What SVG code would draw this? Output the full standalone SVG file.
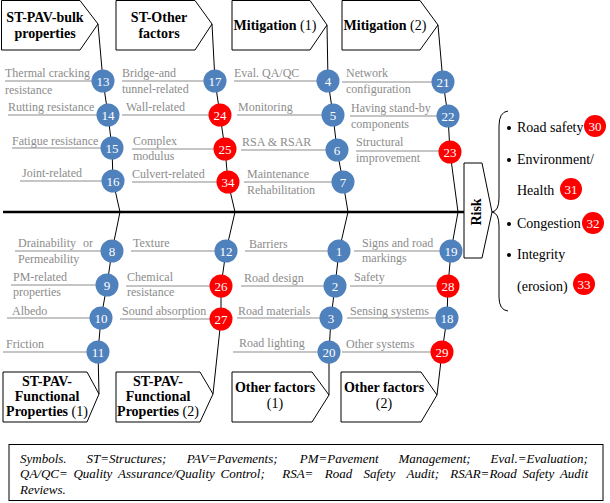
<svg xmlns="http://www.w3.org/2000/svg" width="610" height="503" viewBox="0 0 610 503">
<style>
  text{font-family:'Liberation Serif','DejaVu Serif',serif}
  .box{fill:#fff;stroke:#000;stroke-width:1}
  .bt{font-size:14px;font-weight:bold;fill:#000;text-anchor:middle}
  .r{font-weight:normal}
  .sp{fill:none;stroke:#000;stroke-width:1}
  .main{stroke:#000;stroke-width:2.5}
  .ln{stroke:#8c8c8c;stroke-width:1.2}
  .lbl{font-size:12px;fill:#8c8c8c}
  .nb{fill:#4f81bd}
  .nr{fill:#ff0000}
  .num{font-size:13px;fill:#fff;text-anchor:middle}
  .rk{font-size:14px;fill:#000}
  .leg{font-size:13px;font-style:italic;fill:#000}
</style>
<rect width="610" height="503" fill="#fff"/>

<!-- category boxes -->
<g id="box-st-pav-bulk"><path class="box" d="M1.5,0.5 H80 L98,24 L80,50 H1.5 Z"/><text class="bt" x="45" y="22">ST-PAV-bulk</text><text class="bt" x="45" y="38">properties</text></g>
<g id="box-st-other"><path class="box" d="M116,0.5 H195 L212,24 L195,50 H116 Z"/><text class="bt" x="159" y="22">ST-Other</text><text class="bt" x="159" y="38">factors</text></g>
<g id="box-mitigation-1"><path class="box" d="M232,0.5 H310 L327,25 L310,50 H232 Z"/><text class="bt" x="275" y="30">Mitigation<tspan class="r"> (1)</tspan></text></g>
<g id="box-mitigation-2"><path class="box" d="M342,0.5 H420 L438,25 L420,50 H342 Z"/><text class="bt" x="385" y="30">Mitigation<tspan class="r"> (2)</tspan></text></g>
<g id="box-st-pav-func-1"><path class="box" d="M3,372 H87 L99,394 L87,422 H3 Z"/><text class="bt" x="47" y="386">ST-PAV-</text><text class="bt" x="47" y="401">Functional</text><text class="bt" x="47" y="416">Properties<tspan class="r"> (1)</tspan></text></g>
<g id="box-st-pav-func-2"><path class="box" d="M116,372 H200 L213,394 L200,422 H116 Z"/><text class="bt" x="158" y="386">ST-PAV-</text><text class="bt" x="158" y="401">Functional</text><text class="bt" x="158" y="416">Properties<tspan class="r"> (2)</tspan></text></g>
<g id="box-other-1"><path class="box" d="M232,372 H312 L329,395 L312,422 H232 Z"/><text class="bt" x="275" y="392">Other factors</text><text class="bt" x="275" y="408"><tspan class="r">(1)</tspan></text></g>
<g id="box-other-2"><path class="box" d="M341,372 H421 L437,395 L421,422 H341 Z"/><text class="bt" x="384" y="392">Other factors</text><text class="bt" x="384" y="408"><tspan class="r">(2)</tspan></text></g>

<!-- connectors -->
<g id="connectors">
  <line class="main" x1="3" y1="212" x2="464" y2="212"/>
  <polyline class="sp" points="98,24 103,81 108,115 112,148 113,181 120,212 112,251 107,285 101,318 98,352 99,394"/>
  <polyline class="sp" points="212,24 215,81 220,115 225,149 228,182 235,212 226,251 221,286 221,319 213,394"/>
  <polyline class="sp" points="327,25 328,81 333,115 337,150 343,182 348,212 339,251 335,286 331,318 329,352 329,395"/>
  <polyline class="sp" points="438,25 443,82 448,116 450,152 458,212 451,251 448,286 447,318 442,352 437,395"/>
</g>

<!-- risk box -->
<g id="risk">
  <path class="box" d="M464,163 H482 L492,212 L482,258 H464 Z"/>
  <text class="bt" transform="translate(481,212) rotate(-90)">Risk</text>
  <path class="sp" d="M508,111 Q499,112 499,126 L499,198 Q499,211 492,212 Q499,213 499,226 L499,297 Q499,310 508,311"/>
</g>

<!-- numbered nodes -->
<g id="n13"><line class="ln" x1="5" y1="81" x2="103" y2="81"/><text class="lbl" x="5" y="77">Thermal cracking</text><text class="lbl" x="5" y="94">resistance</text><circle class="nb" cx="103" cy="81" r="11.5"/><text class="num" x="103" y="85.5">13</text></g>
<g id="n14"><line class="ln" x1="8" y1="115" x2="108" y2="115"/><text class="lbl" x="8" y="111">Rutting resistance</text><circle class="nb" cx="108" cy="115" r="11.5"/><text class="num" x="108" y="119.5">14</text></g>
<g id="n15"><line class="ln" x1="12" y1="148" x2="112" y2="148"/><text class="lbl" x="12" y="145">Fatigue resistance</text><circle class="nb" cx="112" cy="148" r="11.5"/><text class="num" x="112" y="152.5">15</text></g>
<g id="n16"><line class="ln" x1="20" y1="181" x2="113" y2="181"/><text class="lbl" x="22" y="177">Joint-related</text><circle class="nb" cx="113" cy="181" r="11.5"/><text class="num" x="113" y="185.5">16</text></g>

<g id="n17"><line class="ln" x1="122" y1="81" x2="215" y2="81"/><text class="lbl" x="122" y="77">Bridge-and</text><text class="lbl" x="122" y="93">tunnel-related</text><circle class="nb" cx="215" cy="81" r="11.5"/><text class="num" x="215" y="85.5">17</text></g>
<g id="n24"><line class="ln" x1="122" y1="115" x2="220" y2="115"/><text class="lbl" x="126" y="111">Wall-related</text><circle class="nr" cx="220" cy="115" r="11.5"/><text class="num" x="220" y="119.5">24</text></g>
<g id="n25"><line class="ln" x1="132" y1="149" x2="225" y2="149"/><text class="lbl" x="133" y="145">Complex</text><text class="lbl" x="133" y="160">modulus</text><circle class="nr" cx="225" cy="149" r="11.5"/><text class="num" x="225" y="153.5">25</text></g>
<g id="n34"><line class="ln" x1="132" y1="182" x2="228" y2="182"/><text class="lbl" x="132" y="178">Culvert-related</text><circle class="nr" cx="228" cy="182" r="11.5"/><text class="num" x="228" y="186.5">34</text></g>

<g id="n4"><line class="ln" x1="234" y1="81" x2="328" y2="81"/><text class="lbl" x="234" y="77">Eval. QA/QC</text><circle class="nb" cx="328" cy="81" r="11.5"/><text class="num" x="328" y="85.5">4</text></g>
<g id="n5"><line class="ln" x1="237" y1="115" x2="333" y2="115"/><text class="lbl" x="238" y="111">Monitoring</text><circle class="nb" cx="333" cy="115" r="11.5"/><text class="num" x="333" y="119.5">5</text></g>
<g id="n6"><line class="ln" x1="241" y1="150" x2="337" y2="150"/><text class="lbl" x="242" y="146">RSA &amp; RSAR</text><circle class="nb" cx="337" cy="150" r="11.5"/><text class="num" x="337" y="154.5">6</text></g>
<g id="n7"><line class="ln" x1="244" y1="182" x2="343" y2="182"/><text class="lbl" x="247" y="178">Maintenance</text><text class="lbl" x="247" y="194">Rehabilitation</text><circle class="nb" cx="343" cy="182" r="11.5"/><text class="num" x="343" y="186.5">7</text></g>

<g id="n21"><line class="ln" x1="342" y1="82" x2="443" y2="82"/><text class="lbl" x="346" y="77">Network</text><text class="lbl" x="346" y="93">configuration</text><circle class="nb" cx="443" cy="82" r="11.5"/><text class="num" x="443" y="86.5">21</text></g>
<g id="n22"><line class="ln" x1="350" y1="116" x2="448" y2="116"/><text class="lbl" x="351" y="112">Having stand-by</text><text class="lbl" x="351" y="128">components</text><circle class="nb" cx="448" cy="116" r="11.5"/><text class="num" x="448" y="120.5">22</text></g>
<g id="n23"><line class="ln" x1="356" y1="151" x2="450" y2="151"/><text class="lbl" x="356" y="146">Structural</text><text class="lbl" x="356" y="162">improvement</text><circle class="nr" cx="450" cy="152" r="11.5"/><text class="num" x="450" y="156.5">23</text></g>

<g id="n8"><line class="ln" x1="15" y1="251" x2="112" y2="251"/><text class="lbl" x="18" y="247">Drainability<tspan x="83">or</tspan></text><text class="lbl" x="18" y="263">Permeability</text><circle class="nb" cx="112" cy="251" r="11.5"/><text class="num" x="112" y="255.5">8</text></g>
<g id="n9"><line class="ln" x1="11" y1="285" x2="107" y2="285"/><text class="lbl" x="13" y="281">PM-related</text><text class="lbl" x="13" y="296">properties</text><circle class="nb" cx="107" cy="285" r="11.5"/><text class="num" x="107" y="289.5">9</text></g>
<g id="n10"><line class="ln" x1="7" y1="318" x2="101" y2="318"/><text class="lbl" x="12" y="315">Albedo</text><circle class="nb" cx="101" cy="318" r="11.5"/><text class="num" x="101" y="322.5">10</text></g>
<g id="n11"><line class="ln" x1="3" y1="352" x2="98" y2="352"/><text class="lbl" x="6" y="348">Friction</text><circle class="nb" cx="98" cy="352" r="11.5"/><text class="num" x="98" y="356.5">11</text></g>

<g id="n12"><line class="ln" x1="131" y1="251" x2="226" y2="251"/><text class="lbl" x="133" y="247">Texture</text><circle class="nb" cx="226" cy="251" r="11.5"/><text class="num" x="226" y="255.5">12</text></g>
<g id="n26"><line class="ln" x1="126" y1="286" x2="221" y2="286"/><text class="lbl" x="127" y="281">Chemical</text><text class="lbl" x="127" y="296">resistance</text><circle class="nr" cx="221" cy="286" r="11.5"/><text class="num" x="221" y="290.5">26</text></g>
<g id="n27"><line class="ln" x1="120" y1="319" x2="221" y2="319"/><text class="lbl" x="122" y="315">Sound absorption</text><circle class="nr" cx="221" cy="319" r="11.5"/><text class="num" x="221" y="323.5">27</text></g>

<g id="n1"><line class="ln" x1="245" y1="251" x2="339" y2="251"/><text class="lbl" x="249" y="248">Barriers</text><circle class="nb" cx="339" cy="251" r="11.5"/><text class="num" x="339" y="255.5">1</text></g>
<g id="n2"><line class="ln" x1="241" y1="286" x2="335" y2="286"/><text class="lbl" x="244" y="282">Road design</text><circle class="nb" cx="335" cy="286" r="11.5"/><text class="num" x="335" y="290.5">2</text></g>
<g id="n3"><line class="ln" x1="237" y1="318" x2="331" y2="318"/><text class="lbl" x="238" y="315">Road materials</text><circle class="nb" cx="331" cy="318" r="11.5"/><text class="num" x="331" y="322.5">3</text></g>
<g id="n20"><line class="ln" x1="233" y1="352" x2="329" y2="352"/><text class="lbl" x="239" y="347">Road lighting</text><circle class="nb" cx="329" cy="352" r="11.5"/><text class="num" x="329" y="356.5">20</text></g>

<g id="n19"><line class="ln" x1="354" y1="251" x2="451" y2="251"/><text class="lbl" x="362" y="247">Signs and road</text><text class="lbl" x="362" y="262">markings</text><circle class="nb" cx="451" cy="251" r="11.5"/><text class="num" x="451" y="255.5">19</text></g>
<g id="n28"><line class="ln" x1="350" y1="286" x2="448" y2="286"/><text class="lbl" x="354" y="281">Safety</text><circle class="nr" cx="448" cy="286" r="11.5"/><text class="num" x="448" y="290.5">28</text></g>
<g id="n18"><line class="ln" x1="347" y1="318" x2="447" y2="318"/><text class="lbl" x="350" y="315">Sensing systems</text><circle class="nb" cx="447" cy="318" r="11.5"/><text class="num" x="447" y="322.5">18</text></g>
<g id="n29"><line class="ln" x1="342" y1="352" x2="442" y2="352"/><text class="lbl" x="346" y="348">Other systems</text><circle class="nr" cx="442" cy="352" r="11.5"/><text class="num" x="442" y="356.5">29</text></g>

<!-- risk list -->
<g id="risk-road-safety"><circle cx="509" cy="128" r="2" fill="#000"/><text class="rk" x="517" y="132">Road safety</text><circle class="nr" cx="595" cy="126" r="11"/><text class="num" x="595" y="130.5">30</text></g>
<g id="risk-environment"><circle cx="509" cy="160" r="2" fill="#000"/><text class="rk" x="517" y="164">Environment/</text><text class="rk" x="517" y="195">Health</text><circle class="nr" cx="571" cy="189" r="11"/><text class="num" x="571" y="193.5">31</text></g>
<g id="risk-congestion"><circle cx="509" cy="224" r="2" fill="#000"/><text class="rk" x="517" y="228">Congestion</text><circle class="nr" cx="593" cy="223" r="11"/><text class="num" x="593" y="227.5">32</text></g>
<g id="risk-integrity"><circle cx="509" cy="255" r="2" fill="#000"/><text class="rk" x="517" y="259">Integrity</text><text class="rk" x="517" y="291">(erosion)</text><circle class="nr" cx="584" cy="284" r="11"/><text class="num" x="584" y="288.5">33</text></g>

<!-- legend -->
<g id="legend">
  <rect x="9" y="444.5" width="594" height="56" fill="#fff" stroke="#000" stroke-width="1"/>
  <text class="leg" y="462.5"><tspan x="20">Symbols.</tspan><tspan x="86.5">ST=Structures;</tspan><tspan x="186.7">PAV=Pavements;</tspan><tspan x="299.8">PM=Pavement</tspan><tspan x="398.5">Management;</tspan><tspan x="490.6">Eval.=Evaluation;</tspan></text>
  <text class="leg" y="478"><tspan x="20">QA/QC=</tspan><tspan x="73.4">Quality</tspan><tspan x="118.1">Assurance/Quality</tspan><tspan x="220.5">Control;</tspan><tspan x="282.2">RSA=</tspan><tspan x="324.7">Road</tspan><tspan x="363.4">Safety</tspan><tspan x="406.5">Audit;</tspan><tspan x="450.3">RSAR=Road</tspan><tspan x="522.4">Safety</tspan><tspan x="559.9">Audit</tspan></text>
  <text class="leg" x="20" y="493.5">Reviews.</text>
</g>
</svg>
